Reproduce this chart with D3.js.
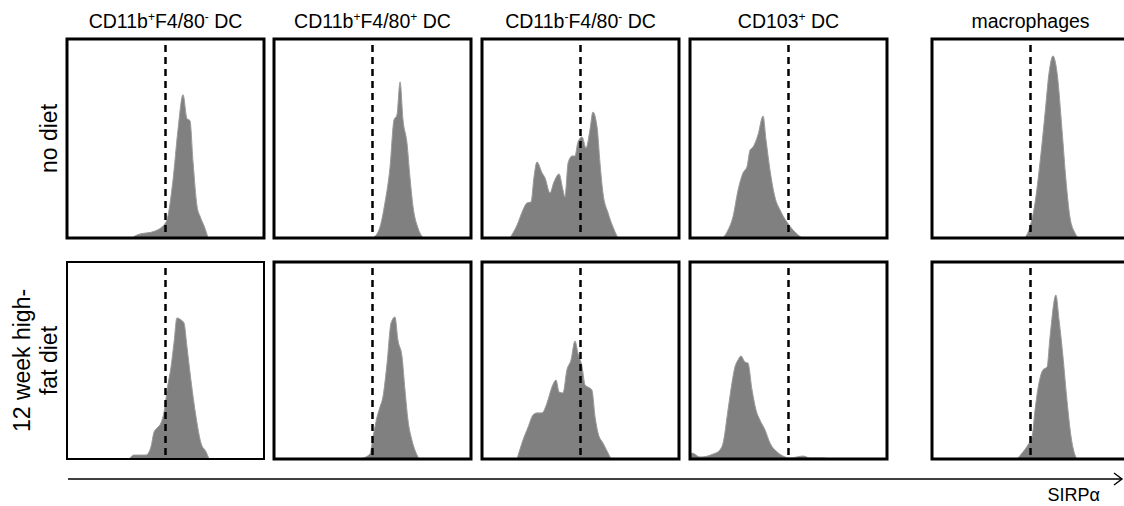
<!DOCTYPE html>
<html>
<head>
<meta charset="utf-8">
<script src="https://cdn.jsdelivr.net/npm/d3@7"></script>
<style>
  body { margin: 0; background: #fff; }
  svg { display: block; font-family: "Liberation Sans", Arial, sans-serif; }
</style>
</head>
<body>
<div id="chart"></div>
<script>
// cell populations (columns) and diet groups (rows)
const populations = [
  [["CD11b"], ["+", "sup"], ["F4/80"], ["-", "sup"], [" DC"]],
  [["CD11b"], ["+", "sup"], ["F4/80"], ["+", "sup"], [" DC"]],
  [["CD11b"], ["-", "sup"], ["F4/80"], ["-", "sup"], [" DC"]],
  [["CD103"], ["+", "sup"], [" DC"]],
  [["macrophages"]]
];
const conditions = [["no diet"], ["12 week high-", "fat diet"]];
const axisLabel = "SIRPα";

// gate position (dashed line) per column, in % of the SIRPa axis
const gateX = [50, 50, 50, 50, 50];

// histograms: [SIRPa position (% of axis), count (% of panel height)]
const noDiet = [
  [[33, 0], [35.5, 1.5], [44.7, 3.5], [50.3, 8], [53.8, 29], [56.3, 54], [58.9, 72], [60.9, 60],
   [62.4, 59], [64, 38], [66, 16], [67.5, 11], [70, 5], [71.6, 0]],
  [[50.3, 0], [53.8, 5.5], [56.3, 17.6], [58.9, 35.7], [60.9, 59.3], [62.4, 61.8], [64, 78.4],
   [65.5, 59.3], [67.5, 47.7], [69, 30.7], [70.6, 15.6], [73.1, 5], [75.6, 0]],
  [[14.2, 0], [17.8, 6.5], [20.8, 14.1], [22.8, 17.6], [24.9, 18.1], [26.4, 30.7], [27.9, 38.2],
   [30.5, 32.7], [32, 30.2], [34.5, 22.6], [36.5, 28.1], [39.1, 32.2], [41.1, 24.1], [42.1, 20.6],
   [43.7, 37.7], [45.7, 41.2], [47.2, 41.2], [48.7, 48.2], [50.8, 50.8], [52.8, 45.2], [54.8, 54.3],
   [56.3, 63.3], [58.4, 55.8], [59.9, 37.7], [61.4, 22.6], [64, 12.6], [66.5, 5.5], [69, 0]],
  [[16.8, 0], [19.3, 4], [21.8, 10.6], [24.4, 24.1], [26.9, 32.7], [28.9, 35.7], [30.5, 44.2],
   [32, 45.7], [34.5, 51.8], [37.1, 61.3], [38.6, 49.2], [40.6, 34.2], [43.1, 20.6], [45.7, 14.1],
   [49.2, 8], [52.3, 4], [56.9, 0]],
  [[47.2, 0], [49.7, 5.5], [52.3, 17.6], [54.8, 37.7], [57.4, 62.8], [59.4, 82.9], [61.4, 91.5],
   [63.5, 82.9], [66, 54.3], [68, 29.1], [70, 10.6], [72.6, 2.5], [74.1, 0]]
];
const highFatDiet = [
  [[31.5, 0], [34, 2], [40.1, 2], [42.6, 6.1], [44.2, 13.7], [45.7, 15.7], [47.7, 18.3], [49.7, 26.4],
   [50.8, 35], [52.8, 46.7], [54.3, 58.9], [55.8, 71.6], [57.9, 70.6], [59.4, 69], [60.9, 56.9],
   [62.9, 40.1], [65.5, 21.3], [68, 8.1], [70.6, 3.6], [72.1, 0]],
  [[43.7, 0], [48.7, 2.5], [50.3, 11.2], [52.3, 21.3], [53.8, 26.4], [55.3, 31.5], [57.4, 48.7],
   [59.4, 69], [61.4, 72.1], [62.9, 60.4], [65, 51.8], [66.5, 35], [68, 19.8], [70, 9.6],
   [72.6, 2], [73.6, 0]],
  [[17.8, 0], [20.8, 9.6], [23.4, 16.2], [25.9, 22.3], [27.9, 23.4], [30.5, 23.4], [33, 28.4],
   [35.5, 36.5], [37.6, 40.1], [39.1, 34], [41.1, 33.5], [43.1, 45.2], [45.2, 50.3], [47.2, 59.9],
   [48.7, 53.8], [50.8, 46.7], [52.3, 37.6], [53.8, 36.5], [55.8, 35], [57.4, 21.3], [58.9, 13.2],
   [61.4, 8.1], [64, 3], [65.5, 0]],
  [[0, 2], [1, 3], [5.1, 1], [11.7, 2.5], [15.2, 4.6], [16.8, 8.1], [19.3, 24.9], [21.3, 38.6],
   [22.8, 46.7], [24.4, 50.3], [25.9, 52.3], [27.9, 49.2], [29.4, 48.7], [31.5, 35], [33.5, 24.9],
   [35.5, 19.8], [38.1, 14.7], [40.6, 8.1], [44.2, 3.6], [47.2, 1.5], [50.8, 0.5], [57.4, 1.5],
   [60.9, 0.5], [67.5, 0.5], [71.1, 0]],
  [[43.1, 0], [46.2, 3.6], [48.7, 7.1], [50.8, 11.2], [52.3, 24.9], [54.3, 38.6], [56.3, 45.2],
   [58.4, 46.7], [59.9, 61.9], [62.9, 83.2], [64.5, 70.6], [66.5, 51.8], [68.5, 29.9],
   [70.6, 11.2], [72.6, 2], [73.6, 0]]
];
const histograms = [noDiet, highFatDiet];

const width = 1124;
const height = 506;

// layout of the panel grid
const colLeft = [67, 274, 482, 690, 932];
const rowTop = [39, 262];
const panelW = 197;
const panelH = [199, 197];

const svg = d3.select("#chart")
  .append("svg")
  .attr("width", width)
  .attr("height", height);

// column headers
populations.forEach((parts, c) => {
  const t = svg.append("text")
    .attr("x", colLeft[c] + panelW / 2)
    .attr("y", 28)
    .attr("text-anchor", "middle")
    .attr("font-size", 19.5)
    .attr("fill", "#000");
  let raised = false;
  parts.forEach(([s, kind]) => {
    const sp = t.append("tspan").text(s);
    if (kind === "sup") {
      sp.attr("font-size", 12).attr("dy", -7);
      raised = true;
    } else if (raised) {
      sp.attr("dy", 7);
      raised = false;
    }
  });
});

// row labels
conditions.forEach((lines, r) => {
  const cy = rowTop[r] + panelH[r] / 2;
  const lineH = 27;
  const lastX = 57;
  const t = svg.append("text")
    .attr("transform", `translate(${lastX - (lines.length - 1) * lineH},${cy}) rotate(-90)`)
    .attr("text-anchor", "middle")
    .attr("font-size", 23)
    .attr("fill", "#000");
  lines.forEach((l, i) => {
    t.append("tspan")
      .attr("x", 0)
      .attr("dy", i === 0 ? 0 : lineH)
      .text(l);
  });
});

// panels
histograms.forEach((row, r) => {
  row.forEach((hist, c) => {
    const x = d3.scaleLinear().domain([0, 100]).range([colLeft[c], colLeft[c] + panelW]);
    const y = d3.scaleLinear().domain([0, 100]).range([rowTop[r] + panelH[r], rowTop[r]]);
    const g = svg.append("g");

    const area = d3.area()
      .x((d) => x(d[0]))
      .y0(y(0))
      .y1((d) => y(d[1]))
      .curve(d3.curveMonotoneX);

    g.append("path")
      .datum(hist)
      .attr("d", area)
      .attr("fill", "#808080")
      .attr("stroke", "#9a9a9a")
      .attr("stroke-width", 1);

    g.append("line")
      .attr("x1", x(gateX[c]))
      .attr("x2", x(gateX[c]))
      .attr("y1", y(97))
      .attr("y2", y(0))
      .attr("stroke", "#000")
      .attr("stroke-width", 2.5)
      .attr("stroke-dasharray", "7,5");

    g.append("rect")
      .attr("x", x(0))
      .attr("y", y(100))
      .attr("width", panelW)
      .attr("height", panelH[r])
      .attr("fill", "none")
      .attr("stroke", "#000")
      .attr("stroke-width", r === 1 && c === 0 ? 2 : 3);
  });
});

// SIRPa axis arrow
const axisY = 479;
svg.append("line")
  .attr("x1", 68)
  .attr("x2", 1122)
  .attr("y1", axisY)
  .attr("y2", axisY)
  .attr("stroke", "#000")
  .attr("stroke-width", 1.4);
svg.append("path")
  .attr("d", `M1114,${axisY - 6}L1122,${axisY}L1114,${axisY + 6}`)
  .attr("fill", "none")
  .attr("stroke", "#000")
  .attr("stroke-width", 1.4);
svg.append("text")
  .attr("x", 1100)
  .attr("y", 501)
  .attr("text-anchor", "end")
  .attr("font-size", 18)
  .attr("fill", "#000")
  .text(axisLabel);
</script>
</body>
</html>
